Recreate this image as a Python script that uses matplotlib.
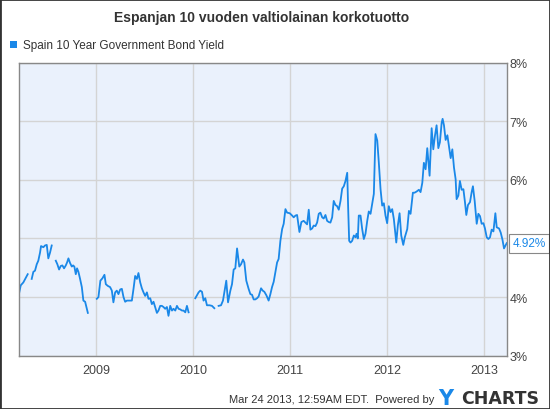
import numpy as np
import matplotlib.pyplot as plt
from matplotlib.patches import Rectangle

plt.rcParams['font.family'] = ['Liberation Sans', 'DejaVu Sans']

#%% Data (decimal years, yield in %; nan marks gaps in the series)
#-----------------------------------------------------------------------------------------------------------------------
nan = np.nan
years = [
    2008.212, 2008.227, 2008.254, 2008.289, 2008.299, 2008.320,
    2008.340, 2008.357, 2008.374, 2008.392, 2008.408, 2008.426, 2008.436, 2008.460, 2008.477, 2008.495,
    2008.511, 2008.529, 2008.546, 2008.567,
    2008.588, 2008.604, 2008.622, 2008.639, 2008.656, 2008.673, 2008.691, 2008.704, 2008.718, 2008.735,
    2008.753, 2008.766, 2008.779, 2008.794, 2008.807, 2008.821, 2008.838, 2008.856, 2008.872, 2008.890,
    2008.907, 2008.918, 2008.960,
    2009.010, 2009.027, 2009.047, 2009.068, 2009.089, 2009.103, 2009.124, 2009.147, 2009.165, 2009.181,
    2009.199, 2009.216, 2009.233, 2009.251, 2009.268, 2009.285, 2009.302, 2009.320, 2009.354, 2009.371,
    2009.388, 2009.405, 2009.423, 2009.439, 2009.457, 2009.474, 2009.491, 2009.508, 2009.526, 2009.542,
    2009.560, 2009.577, 2009.594, 2009.611, 2009.629, 2009.645, 2009.663, 2009.680, 2009.697, 2009.714,
    2009.732, 2009.748, 2009.766, 2009.784, 2009.800, 2009.818, 2009.835, 2009.852, 2009.869, 2009.887,
    2009.903, 2009.921, 2009.938, 2009.955, 2009.990,
    2010.024, 2010.058, 2010.075, 2010.093, 2010.109, 2010.127, 2010.144, 2010.171, 2010.196, 2010.220,
    2010.242,
    2010.264, 2010.289, 2010.309, 2010.343, 2010.361, 2010.385, 2010.402, 2010.419, 2010.436, 2010.454,
    2010.477, 2010.495, 2010.515, 2010.529, 2010.549, 2010.573, 2010.591, 2010.608, 2010.625, 2010.642,
    2010.660, 2010.676, 2010.701, 2010.718, 2010.735, 2010.756, 2010.779, 2010.797, 2010.814, 2010.831,
    2010.848, 2010.866, 2010.882, 2010.900, 2010.918, 2010.934, 2010.952, 2010.969, 2010.996, 2011.021,
    2011.037, 2011.055, 2011.072, 2011.096, 2011.116, 2011.140, 2011.158, 2011.175, 2011.192, 2011.209,
    2011.227, 2011.243, 2011.261, 2011.278, 2011.295, 2011.312, 2011.330, 2011.346, 2011.364, 2011.381,
    2011.398, 2011.415, 2011.433, 2011.449, 2011.467, 2011.484, 2011.501, 2011.519, 2011.536, 2011.553,
    2011.570, 2011.588, 2011.598, 2011.608, 2011.622, 2011.639, 2011.656, 2011.673, 2011.684, 2011.697,
    2011.707, 2011.725, 2011.742, 2011.759, 2011.776, 2011.794, 2011.810, 2011.828, 2011.845, 2011.862,
    2011.879, 2011.897, 2011.913, 2011.931, 2011.948, 2011.965, 2011.982, 2011.999, 2012.016, 2012.034,
    2012.051, 2012.068, 2012.093, 2012.109, 2012.127, 2012.144, 2012.165, 2012.181, 2012.206, 2012.223,
    2012.240, 2012.264, 2012.281, 2012.302, 2012.326, 2012.343, 2012.361, 2012.377, 2012.395, 2012.412,
    2012.436, 2012.457, 2012.474, 2012.491, 2012.508, 2012.526, 2012.542, 2012.560, 2012.570, 2012.584,
    2012.601, 2012.619, 2012.635, 2012.653, 2012.670, 2012.687, 2012.704, 2012.714, 2012.732, 2012.748,
    2012.766, 2012.784, 2012.800, 2012.814, 2012.831, 2012.852, 2012.869, 2012.882, 2012.900, 2012.921,
    2012.938, 2012.955, 2012.972, 2012.990, 2013.006, 2013.024, 2013.041, 2013.058, 2013.075, 2013.093,
    2013.113, 2013.127, 2013.151, 2013.168, 2013.186, 2013.202, 2013.220, 2013.230,
]
yields = [
    4.08, 4.20, 4.25, 4.36, 4.39, nan,
    4.31, 4.43, 4.45, 4.56, 4.62, 4.76, 4.87, 4.85, 4.88, 4.89,
    4.66, 4.76, 4.88, nan,
    4.62, 4.56, 4.47, 4.53, 4.54, 4.49, 4.54, 4.59, 4.66, 4.58,
    4.52, 4.54, 4.52, 4.39, 4.49, 4.43, 4.31, 4.17, 3.94, 3.92,
    3.80, 3.73, nan,
    3.97, 4.00, 4.28, 4.32, 4.38, 4.22, 4.19, 4.17, 4.11, 3.91,
    4.08, 4.11, 4.05, 4.13, 4.14, 4.00, 3.92, 3.94, 3.94, 3.94,
    4.14, 4.36, 4.31, 4.41, 4.25, 4.15, 4.08, 4.02, 4.08, 3.97,
    3.98, 3.88, 3.92, 3.83, 3.73, 3.77, 3.85, 3.85, 3.83, 3.80,
    3.83, 3.68, 3.85, 3.77, 3.80, 3.77, 3.85, 3.80, 3.79, 3.77,
    3.77, 3.74, 3.85, 3.74, nan,
    3.98, 4.08, 4.11, 4.09, 3.94, 3.98, 3.86, 3.86, 3.85, 3.81,
    nan,
    3.85, 3.86, 3.94, 4.28, 3.91, 4.11, 4.22, 4.47, 4.49, 4.83,
    4.52, 4.56, 4.64, 4.59, 4.28, 4.14, 4.05, 4.04, 3.96, 3.96,
    3.98, 4.01, 4.15, 4.11, 4.09, 4.03, 3.94, 4.05, 4.17, 4.26,
    4.42, 4.59, 4.65, 4.96, 5.16, 5.25, 5.50, 5.44, 5.43, 5.39,
    5.36, 5.39, 5.40, 5.11, 5.28, 5.30, 5.27, 5.24, 5.49, 5.15,
    5.17, 5.22, 5.21, 5.27, 5.42, 5.44, 5.36, 5.34, 5.40, 5.30,
    5.28, 5.27, 5.36, 5.64, 5.57, 5.55, 5.49, 5.64, 5.85, 5.89,
    5.98, 6.12, 5.50, 4.96, 4.93, 4.96, 5.05, 5.02, 5.08, 5.00,
    5.39, 5.39, 5.16, 4.99, 5.08, 5.30, 5.46, 5.42, 5.59, 5.76,
    6.78, 6.67, 6.30, 5.84, 5.56, 5.60, 5.39, 5.26, 5.55, 5.45,
    5.50, 5.33, 4.93, 5.22, 5.43, 5.05, 4.89, 5.02, 5.16, 5.47,
    5.42, 5.78, 5.78, 5.80, 5.83, 5.79, 5.95, 6.29, 6.18, 6.54,
    6.07, 6.88, 6.52, 6.75, 6.93, 6.54, 6.64, 6.97, 7.04, 6.93,
    6.68, 6.76, 6.58, 6.37, 6.52, 6.21, 6.01, 5.67, 5.73, 5.98,
    5.83, 5.84, 5.62, 5.40, 5.57, 5.62, 5.79, 5.89, 5.64, 5.25,
    5.42, 5.38, 5.25, 5.26, 5.17, 5.02, 4.99, 5.02, 5.15, 5.12,
    5.43, 5.19, 5.17, 5.10, 4.98, 4.83, 4.89, 4.92,
]
year_ticks = [2009, 2010, 2011, 2012, 2013]
pct_ticks = [3, 4, 5, 6, 7, 8]
last_value = 4.92

series_name = 'Spain 10 Year Government Bond Yield'
title = 'Espanjan 10 vuoden valtiolainan korkotuotto'
stamp = 'Mar 24 2013, 12:59AM EDT.  Powered by'

#%% Plotting
#-----------------------------------------------------------------------------------------------------------------------
blue = '#1a88e8'
fig = plt.figure(figsize=(5.5, 4.1), dpi=100)
ax = fig.add_axes([0.0345, 0.13, 0.887, 0.715])
ax.set_facecolor('#eaf1fc')

ax.plot(years, yields, color=blue, lw=1.3)

ax.set_xlim(2008.209, 2013.231)
ax.set_ylim(3, 8)
ax.set_xticks(year_ticks)
ax.set_xticklabels([str(y) for y in year_ticks])
ax.set_yticks(pct_ticks)
# the 5% label sits under the last-value flag in the original
ax.set_yticklabels(['' if p == 5 else '{}%'.format(p) for p in pct_ticks])
ax.yaxis.tick_right()
ax.tick_params(axis='both', length=0, labelsize=9, colors='#444444')
ax.tick_params(axis='x', pad=6)
ax.tick_params(axis='y', pad=2)
ax.grid(True, color='#d4d4d4', lw=1)
ax.set_axisbelow(True)
for s in ax.spines.values():
    s.set_color('#888888')
    s.set_linewidth(1)

# last value flag
ax.annotate('{:.2f}%'.format(last_value), xy=(1.0, last_value), xycoords=('axes fraction', 'data'),
            xytext=(4, 0), textcoords='offset points', ha='left', va='center',
            fontsize=8.5, color=blue,
            bbox=dict(boxstyle='square,pad=0.3', fc='white', ec='#888888', lw=0.8))

# header
fig.text(0.475, 0.957, title, ha='center', va='center', fontsize=10, fontweight='bold', color='#333333')
fig.patches.append(Rectangle((0.019, 0.880), 0.012, 0.017, transform=fig.transFigure,
                             fc=blue, ec='none'))
fig.text(0.041, 0.888, series_name, ha='left', va='center', fontsize=8.5, color='#333333')

# footer
fig.text(0.79, 0.025, stamp, ha='right', va='center', fontsize=8, color='#333333')
fig.text(0.797, 0.027, 'Y', ha='left', va='center', fontsize=15, fontweight='bold',
         family='DejaVu Sans', color=blue)
fig.text(0.838, 0.027, 'CHARTS', ha='left', va='center', fontsize=12.5, fontweight='bold',
         family='DejaVu Sans', color='#333333')

fig.patches.append(Rectangle((0, 0), 1, 1, transform=fig.transFigure, fill=False, ec='#333333', lw=2))

fig.savefig('out.png', dpi=100)
